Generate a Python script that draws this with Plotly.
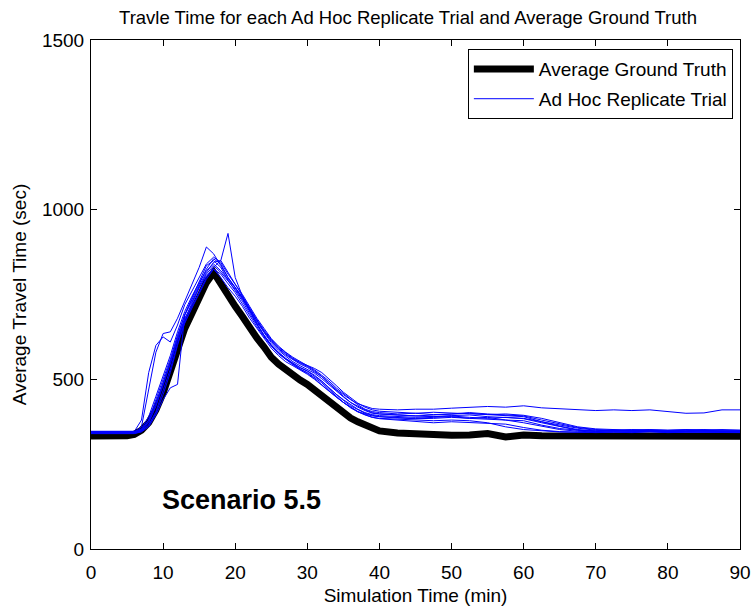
import plotly.graph_objects as go

# Simulation time grid (min): 1-min steps to 40, then 2.5-min steps
time_min = list(range(0, 41)) + [42.5, 45, 47.5, 50, 52.5, 55, 57.5, 60, 62.5, 65,
                                 67.5, 70, 72.5, 75, 77.5, 80, 82.5, 85, 87.5, 90]

# Average ground truth travel time (sec)
ground_truth = [333, 333, 333, 332, 333, 334, 338, 350, 372, 410,
                460, 520, 595, 650, 695, 740, 785, 815, 780, 748,
                715, 685, 650, 622, 595, 565, 545, 528, 513, 498,
                485, 468, 450, 432, 414, 398, 386, 375, 365, 355, 348,
                342, 338, 335, 335, 336, 340, 330, 336, 334, 334,
                332, 333, 334, 333, 333, 332, 333, 334, 333, 332]

# Ad hoc replicate trials (sec)
trial_a = [345, 345, 345, 345, 345, 345, 345, 352, 380, 430,
           490, 550, 620, 680, 720, 770, 810, 835, 815, 790,
           765, 735, 700, 668, 640, 612, 590, 572, 558, 545,
           535, 522, 508, 490, 470, 455, 440, 428, 420, 414, 412,
           410, 412, 412, 415, 418, 420, 418, 422, 416, 414,
           412, 408, 410, 408, 410, 406, 400, 401, 410, 410]
trial_b = [342, 342, 342, 342, 342, 342, 342, 348, 365, 400,
           455, 520, 600, 670, 715, 760, 800, 830, 850, 930,
           800, 745, 705, 665, 630, 600, 578, 560, 545, 530,
           520, 505, 490, 470, 450, 432, 418, 405, 398, 392, 390,
           388, 385, 388, 390, 385, 388, 380, 378, 365, 355,
           350, 348, 350, 348, 350, 347, 348, 350, 348, 348]
trial_c = [346, 346, 346, 346, 346, 346, 346, 380, 520, 600,
           625, 610, 660, 720, 760, 800, 840, 860, 845, 810,
           780, 750, 715, 680, 650, 620, 598, 580, 565, 552,
           540, 528, 512, 495, 475, 458, 440, 425, 412, 405, 402,
           398, 400, 396, 398, 402, 398, 395, 392, 380, 370,
           358, 352, 350, 352, 350, 350, 352, 350, 352, 350]
trial_d = [344, 344, 344, 344, 344, 344, 344, 360, 470, 580,
           635, 640, 680, 730, 780, 830, 890, 870, 835, 800,
           770, 740, 705, 672, 642, 615, 592, 575, 560, 548,
           538, 525, 508, 488, 468, 450, 432, 418, 408, 400, 398,
           395, 392, 395, 398, 400, 396, 394, 390, 375, 362,
           352, 348, 350, 348, 346, 348, 350, 347, 348, 346]
trial_e = [340, 340, 340, 340, 340, 340, 340, 345, 360, 395,
           440, 475, 485, 690, 730, 770, 805, 825, 800, 770,
           745, 715, 680, 650, 620, 592, 570, 552, 540, 528,
           515, 500, 482, 465, 448, 432, 418, 405, 395, 388, 385,
           382, 380, 378, 380, 378, 372, 360, 352, 348, 345,
           344, 345, 344, 345, 346, 344, 345, 344, 345, 344]
trial_f = [343, 343, 343, 343, 343, 343, 343, 355, 390, 450,
           510, 570, 640, 700, 745, 785, 820, 840, 820, 795,
           770, 738, 700, 662, 630, 602, 580, 562, 548, 535,
           525, 512, 495, 476, 456, 440, 425, 412, 402, 396, 393,
           390, 388, 390, 392, 388, 385, 388, 384, 372, 360,
           350, 346, 348, 347, 349, 347, 346, 348, 346, 347]
trial_g = [347, 347, 347, 347, 347, 347, 347, 350, 372, 420,
           480, 545, 615, 675, 725, 775, 815, 845, 850, 815,
           780, 748, 712, 676, 645, 618, 595, 578, 562, 550,
           542, 532, 520, 502, 482, 462, 445, 430, 418, 410, 406,
           402, 400, 403, 400, 398, 396, 398, 394, 385, 372,
           360, 354, 352, 350, 352, 350, 351, 352, 350, 350]
trial_h = [341, 341, 341, 341, 341, 341, 341, 346, 365, 405,
           465, 530, 605, 665, 710, 755, 795, 825, 810, 782,
           755, 722, 688, 655, 625, 598, 575, 558, 543, 530,
           518, 502, 485, 466, 448, 432, 416, 404, 395, 388, 384,
           380, 376, 372, 375, 372, 370, 368, 358, 350, 346,
           344, 343, 344, 343, 345, 343, 344, 343, 344, 343]
trial_i = [345, 345, 345, 345, 345, 345, 345, 350, 380, 440,
           500, 560, 630, 690, 735, 780, 825, 855, 840, 800,
           772, 742, 708, 672, 638, 608, 586, 568, 552, 540,
           530, 518, 502, 484, 465, 448, 432, 420, 410, 402, 398,
           395, 392, 390, 393, 395, 390, 388, 385, 375, 365,
           356, 350, 348, 350, 348, 347, 348, 349, 347, 348]
trial_j = [343, 343, 343, 343, 343, 343, 343, 348, 375, 425,
           485, 550, 625, 690, 740, 790, 835, 850, 830, 792,
           762, 730, 694, 660, 628, 600, 578, 560, 546, 534,
           524, 510, 494, 474, 455, 438, 422, 410, 400, 394, 390,
           386, 384, 385, 388, 385, 382, 380, 372, 362, 352,
           347, 345, 346, 345, 347, 345, 346, 345, 346, 345]

trials = [trial_a, trial_b, trial_c, trial_d, trial_e,
          trial_f, trial_g, trial_h, trial_i, trial_j]

x_ticks = [0, 10, 20, 30, 40, 50, 60, 70, 80, 90]
y_ticks = [0, 500, 1000, 1500]

FONT = "Arial, Liberation Sans, sans-serif"

fig = go.Figure()

fig.add_trace(go.Scatter(
    x=time_min, y=ground_truth, mode="lines",
    name="Average Ground Truth", legendgroup="gt",
    line=dict(color="black", width=7),
))

for i, trial in enumerate(trials):
    fig.add_trace(go.Scatter(
        x=time_min, y=trial, mode="lines",
        name="Ad Hoc Replicate Trial", legendgroup="trials",
        showlegend=(i == 0),
        line=dict(color="#0000FF", width=1),
    ))

fig.add_annotation(
    x=20.9, y=144, xref="x", yref="y", text="<b>Scenario 5.5</b>",
    showarrow=False, font=dict(family=FONT, size=27, color="black"),
)

axis_common = dict(
    showline=True, linecolor="black", linewidth=1, mirror="ticks",
    ticks="inside", ticklen=6, tickcolor="black", showgrid=False, zeroline=False,
    automargin=False,
    tickfont=dict(family=FONT, size=19, color="black"),
)

fig.update_xaxes(
    range=[0, 90], tickvals=x_ticks, ticklabelstandoff=6,
    title=dict(text="Simulation Time (min)", standoff=6,
               font=dict(family=FONT, size=19, color="black")),
    **axis_common,
)
fig.update_yaxes(
    range=[0, 1500], tickvals=y_ticks, ticklabelstandoff=2,
    title=dict(text="Average Travel Time (sec)", standoff=10,
               font=dict(family=FONT, size=19, color="black")),
    **axis_common,
)

fig.update_layout(
    width=752, height=609,
    margin=dict(l=91, r=12, t=40, b=60),
    paper_bgcolor="white", plot_bgcolor="white",
    title=dict(
        text="Travle Time for each Ad Hoc Replicate Trial and Average Ground Truth",
        x=408 / 752, xref="container", xanchor="center",
        y=1 - 18 / 609, yref="container", yanchor="middle",
        font=dict(family=FONT, size=18.5, color="black"),
    ),
    legend=dict(
        x=0.989, y=0.982, xanchor="right", yanchor="top",
        bgcolor="white", bordercolor="black", borderwidth=1,
        font=dict(family=FONT, size=19, color="black"),
        itemwidth=60, tracegroupgap=2,
    ),
    showlegend=True,
)

fig.write_html("out.html")
